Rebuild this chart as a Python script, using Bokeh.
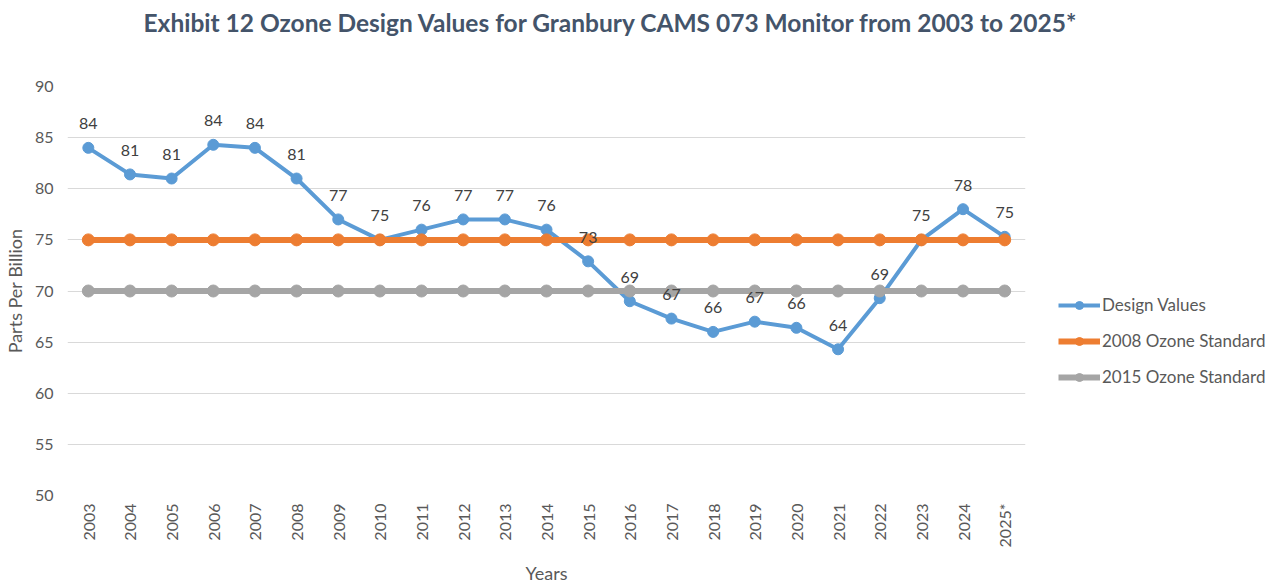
import math
from bokeh.plotting import figure
from bokeh.models import ColumnDataSource, FixedTicker, Legend, LegendItem, Title
from bokeh.core.properties import value
from bokeh.embed import file_html
from bokeh.resources import INLINE

years = ["2003", "2004", "2005", "2006", "2007", "2008", "2009", "2010", "2011", "2012",
         "2013", "2014", "2015", "2016", "2017", "2018", "2019", "2020", "2021", "2022",
         "2023", "2024", "2025*"]
design_values = [84.0, 81.4, 81.0, 84.3, 84.0, 81.0, 77.0, 75.0, 76.0, 77.0,
                 77.0, 76.0, 72.9, 69.0, 67.3, 66.0, 67.0, 66.4, 64.3, 69.3,
                 75.0, 78.0, 75.3]
design_labels = ["84", "81", "81", "84", "84", "81", "77", "75", "76", "77",
                 "77", "76", "73", "69", "67", "66", "67", "66", "64", "69",
                 "75", "78", "75"]
standard_2008 = [75] * 23
standard_2015 = [70] * 23
y_ticks = [50, 55, 60, 65, 70, 75, 80, 85, 90]
title_text = "Exhibit 12 Ozone Design Values for Granbury CAMS 073 Monitor from 2003 to 2025*"

FONT = "Lato"
TXT = "#595959"

p = figure(x_range=years, y_range=(50, 90), frame_width=958, frame_height=409,
           output_backend="svg", toolbar_location=None,
           min_border_left=59, min_border_right=0, min_border_top=86,
           min_border_bottom=0)
p.title = None
spacer = Title(text=" ", text_font=FONT, text_font_size="16px", standoff=22,
               text_color="white")
p.add_layout(spacer, "above")
t = Title(text=title_text, align="left", offset=76, text_font=FONT,
          text_font_size="24.5px", text_font_style="bold", text_color="#44546A",
          standoff=10, vertical_align="top")
p.add_layout(t, "above")

p.outline_line_color = None
p.background_fill_color = "white"
p.border_fill_color = "white"

p.xgrid.grid_line_color = None
p.ygrid.grid_line_color = "#D9D9D9"
p.ygrid.grid_line_width = 1

p.yaxis.ticker = FixedTicker(ticks=y_ticks)
for ax in (p.xaxis, p.yaxis):
    ax.axis_line_color = None
    ax.major_tick_line_color = None
    ax.minor_tick_line_color = None
    ax.major_tick_out = 0
    ax.major_tick_in = 0
    ax.minor_tick_out = 0
    ax.minor_tick_in = 0
    ax.major_label_text_font = FONT
    ax.major_label_text_font_size = "16px"
    ax.major_label_text_color = TXT
    ax.axis_label_text_font = FONT
    ax.axis_label_text_font_size = "18px"
    ax.axis_label_text_font_style = "normal"
    ax.axis_label_text_color = TXT

p.yaxis.axis_label = "Parts Per Billion"
p.yaxis.major_label_standoff = 14
p.yaxis.axis_label_standoff = 6
p.xaxis.axis_label = "Years"
p.xaxis.major_label_orientation = math.pi / 2
p.xaxis.major_label_standoff = 8
p.xaxis.axis_label_standoff = 12

src = ColumnDataSource(dict(x=years, dv=design_values, lab=design_labels,
                            s08=standard_2008, s15=standard_2015))

BLUE = "#5B9BD5"
ORANGE = "#ED7D31"
GRAY = "#A5A5A5"

l1 = p.line("x", "dv", source=src, line_color=BLUE, line_width=4)
m1 = p.scatter("x", "dv", source=src, size=11, color=BLUE)
l2 = p.line("x", "s08", source=src, line_color=ORANGE, line_width=6)
m2 = p.scatter("x", "s08", source=src, size=12, color=ORANGE)
l3 = p.line("x", "s15", source=src, line_color=GRAY, line_width=6)
m3 = p.scatter("x", "s15", source=src, size=12, color=GRAY)

p.text("x", "dv", text="lab", source=src, y_offset=-24, text_align="center",
       text_baseline="middle", text_font=value(FONT), text_font_size="16px",
       text_color="#404040")

legend = Legend(items=[
    LegendItem(label="Design Values", renderers=[l1, m1]),
    LegendItem(label="2008 Ozone Standard", renderers=[l2, m2]),
    LegendItem(label="2015 Ozone Standard", renderers=[l3, m3]),
], location=(33, 108), orientation="vertical")
legend.border_line_color = None
legend.background_fill_alpha = 0
legend.padding = 0
legend.margin = 0
legend.glyph_width = 42
legend.glyph_height = 20
legend.label_standoff = 2
legend.spacing = 15
legend.label_text_font = FONT
legend.label_text_font_size = "17px"
legend.label_text_color = TXT
p.add_layout(legend, "right")

open("out.html", "w").write(file_html(p, INLINE))
